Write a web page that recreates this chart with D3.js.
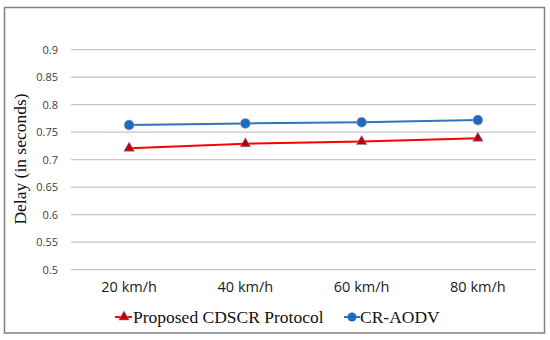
<!DOCTYPE html>
<html>
<head>
<meta charset="utf-8">
<script src="https://cdn.jsdelivr.net/npm/d3@7"></script>
<style>
  body { margin: 0; background: #fff; }
  svg { display: block; }
</style>
</head>
<body>
<div id="chart"></div>
<script>
// speeds on the x axis
const speeds = ['20 km/h', '40 km/h', '60 km/h', '80 km/h'];
// delay values (seconds)
const cdscrDelay = [0.721, 0.729, 0.733, 0.739];
const craodvDelay = [0.763, 0.766, 0.768, 0.772];
const yTicks = [0.5, 0.55, 0.6, 0.65, 0.7, 0.75, 0.8, 0.85, 0.9];

const series = [
  {name: 'Proposed CDSCR Protocol', values: cdscrDelay, color: '#ff0000', marker: '#c00000', shape: 'triangle'},
  {name: 'CR-AODV', values: craodvDelay, color: '#2f75c0', marker: '#1a6cc4', shape: 'circle'}
];

const W = 550, H = 340;
const margin = {top: 49.7, right: 14, bottom: 70.3, left: 71};
const width = W - margin.left - margin.right,
      height = H - margin.top - margin.bottom;

const svg = d3.select('#chart').append('svg')
    .attr('width', W)
    .attr('height', H);

// outer frame
svg.append('rect')
    .attr('x', 4.5).attr('y', 7.5)
    .attr('width', 540).attr('height', 325.5)
    .attr('fill', 'none')
    .attr('stroke', '#808080')
    .attr('stroke-width', 1.5);

const g = svg.append('g')
    .attr('transform', `translate(${margin.left},${margin.top})`);

const x = d3.scaleBand()
    .domain(speeds)
    .range([0, width]);

const y = d3.scaleLinear()
    .domain([0.5, 0.9])
    .range([height, 0]);

// gridlines
g.append('g')
  .selectAll('line')
  .data(yTicks)
  .join('line')
    .attr('x1', 0).attr('x2', width)
    .attr('y1', d => y(d)).attr('y2', d => y(d))
    .attr('stroke', '#c6c6c6')
    .attr('stroke-width', 1.3);

// y axis labels
const yAxis = g.append('g')
    .call(d3.axisLeft(y).tickValues(yTicks).tickSize(0).tickPadding(13).tickFormat(d => d3.format('')(+d.toFixed(2))));
yAxis.select('.domain').remove();
yAxis.selectAll('text')
    .attr('font-family', '"Open Sans", sans-serif')
    .attr('font-size', 11)
    .attr('fill', '#404040');

// x axis labels
const xAxis = g.append('g')
    .attr('transform', `translate(0,${height})`)
    .call(d3.axisBottom(x).tickSize(0).tickPadding(12));
xAxis.select('.domain').remove();
xAxis.selectAll('text')
    .attr('font-family', '"Open Sans", sans-serif')
    .attr('font-size', 14.5)
    .attr('fill', '#1a1a1a');

// y axis title
svg.append('text')
    .attr('transform', 'translate(26,159) rotate(-90)')
    .attr('text-anchor', 'middle')
    .attr('font-family', '"Liberation Serif", serif')
    .attr('font-size', 17.5)
    .attr('fill', '#111')
    .text('Delay (in seconds)');

const cx = d => x(d) + x.bandwidth() / 2;
const tri = d3.symbol().type(d3.symbolTriangle).size(48);

series.forEach(s => {
  const pts = speeds.map((k, i) => [cx(k), y(s.values[i])]);
  g.append('path')
      .attr('d', d3.line()(pts))
      .attr('fill', 'none')
      .attr('stroke', s.color)
      .attr('stroke-width', 2);
  if (s.shape === 'triangle') {
    g.selectAll(null).data(pts).join('path')
        .attr('d', tri)
        .attr('transform', d => `translate(${d[0]},${d[1]})`)
        .attr('fill', s.marker)
        .attr('stroke', '#7a8ed0')
        .attr('stroke-width', 0.6);
  } else {
    g.selectAll(null).data(pts).join('circle')
        .attr('cx', d => d[0]).attr('cy', d => d[1])
        .attr('r', 5)
        .attr('fill', s.marker)
        .attr('stroke', '#e8a0a0')
        .attr('stroke-width', 0.6);
  }
});

// legend
const legendX = [115, 344];
const legend = svg.append('g');
series.forEach((s, i) => {
  const lg = legend.append('g').attr('transform', `translate(${legendX[i]},317)`);
  lg.append('line')
      .attr('x1', 0).attr('x2', i === 0 ? 17 : 16)
      .attr('stroke', s.color).attr('stroke-width', 2);
  if (s.shape === 'triangle') {
    lg.append('path').attr('d', tri).attr('transform', 'translate(9,0)')
        .attr('fill', s.marker).attr('stroke', '#7a8ed0').attr('stroke-width', 0.6);
  } else {
    lg.append('circle').attr('cx', 8).attr('r', 4.5)
        .attr('fill', s.marker);
  }
  lg.append('text')
      .attr('x', i === 0 ? 18 : 16)
      .attr('y', 5.5)
      .attr('font-family', '"Liberation Serif", serif')
      .attr('font-size', 17.5)
      .attr('fill', '#111')
      .text(s.name);
});
</script>
</body>
</html>
